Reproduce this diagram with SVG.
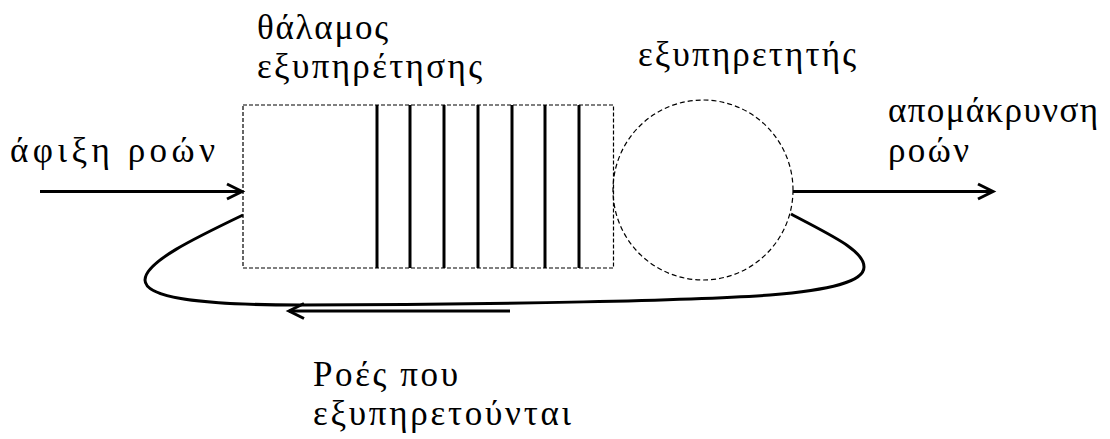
<svg xmlns="http://www.w3.org/2000/svg" width="1110" height="439" viewBox="0 0 1110 439">
<style>
.t{font-family:"Liberation Serif","DejaVu Serif","Times New Roman",serif;font-size:35px;fill:#000}
.dash{fill:none;stroke:#000;stroke-width:1.2;stroke-dasharray:4 2}
.bar{stroke:#000;stroke-width:3}
.conn{fill:none;stroke:#000;stroke-width:3}
</style>
<defs>
<marker id="arr" markerUnits="userSpaceOnUse" markerWidth="20" markerHeight="20" refX="16" refY="8" orient="auto" overflow="visible">
<path d="M1,0.5 L16,8 L1,15.5" fill="none" stroke="#000" stroke-width="3"/>
</marker>
</defs>
<rect width="1110" height="439" fill="#fff"/>
<g id="queue">
<rect class="dash" x="243" y="105" width="370.5" height="163"/>
<line class="bar" x1="377" y1="105" x2="377" y2="268"/>
<line class="bar" x1="410" y1="105" x2="410" y2="268"/>
<line class="bar" x1="444" y1="105" x2="444" y2="268"/>
<line class="bar" x1="478" y1="105" x2="478" y2="268"/>
<line class="bar" x1="512" y1="105" x2="512" y2="268"/>
<line class="bar" x1="545" y1="105" x2="545" y2="268"/>
<line class="bar" x1="579" y1="105" x2="579" y2="268"/>
<text class="t" x="257" y="39" textLength="131" lengthAdjust="spacing">θάλαμος</text>
<text class="t" x="257" y="78" textLength="225" lengthAdjust="spacing">εξυπηρέτησης</text>
</g>
<g id="server">
<circle cx="703" cy="190" r="90" fill="none" stroke="#000" stroke-width="1.2" stroke-dasharray="5 3"/>
<text class="t" x="638" y="66" textLength="218" lengthAdjust="spacing">εξυπηρετητής</text>
</g>
<g id="arrival">
<text class="t" x="10" y="162" textLength="205" lengthAdjust="spacing">άφιξη ροών</text>
</g>
<g id="departure">
<text class="t" x="888" y="122" textLength="210" lengthAdjust="spacing">απομάκρυνση</text>
<text class="t" x="888" y="162" textLength="81" lengthAdjust="spacing">ροών</text>
</g>
<g id="served">
<text class="t" x="313" y="386" textLength="145" lengthAdjust="spacing">Ροές που</text>
<text class="t" x="313" y="425" textLength="258" lengthAdjust="spacing">εξυπηρετούνται</text>
</g>
<g id="connectors">
<line class="conn" x1="40" y1="191.5" x2="242" y2="191.5" marker-end="url(#arr)"/>
<line class="conn" x1="793" y1="191.5" x2="993" y2="191.5" marker-end="url(#arr)"/>
<path class="conn" d="M243,215 C195,238 145,262 145,280 C145,298 200,305 300,305 C500,305 700,300 770,295 C830,290 864,282 864,267 C864,250 830,235 791,214"/>
<line class="conn" x1="510" y1="311" x2="289" y2="311" marker-end="url(#arr)"/>
</g>
</svg>
